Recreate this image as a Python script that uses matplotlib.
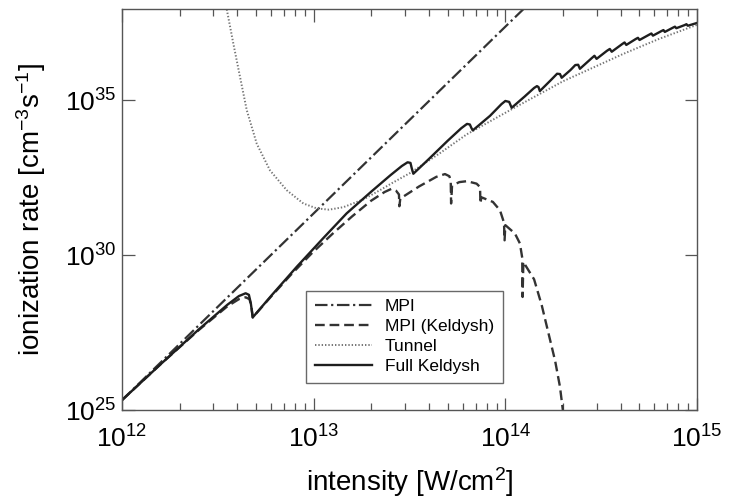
import numpy as np
import matplotlib
matplotlib.use("Agg")
import matplotlib.pyplot as plt
from matplotlib.ticker import FixedLocator, NullLocator, LogLocator

plt.rcParams['font.family'] = ['Liberation Sans', 'DejaVu Sans']
plt.rcParams['mathtext.default'] = 'regular'
plt.rcParams['lines.scale_dashes'] = False

# values, as log10(intensity) / log10(rate)
mpi_logI = [12.0, 13.0, 14.0, 14.2]
mpi_logR = [25.32, 31.35, 37.38, 38.58]

keldysh_mpi_logI = [12.00, 12.20, 12.40, 12.55, 12.61, 12.645, 12.665, 12.675, 12.682,
                    12.78, 12.88, 12.99, 13.10, 13.20, 13.30, 13.37, 13.405, 13.43, 13.445,
                    13.447, 13.452, 13.55, 13.64, 13.685, 13.708, 13.715, 13.717, 13.722,
                    13.76, 13.80, 13.85, 13.868, 13.870, 13.875, 13.935, 13.972, 13.993,
                    13.996, 14.000, 14.05, 14.076, 14.088, 14.090, 14.094, 14.15, 14.19,
                    14.225, 14.26, 14.285, 14.30]
keldysh_mpi_logR = [25.32, 26.47, 27.58, 28.35, 28.58, 28.64, 28.58, 28.35, 27.99,
                    28.68, 29.36, 30.06, 30.70, 31.25, 31.76, 32.04, 32.14, 32.08, 31.96,
                    31.58, 31.83, 32.22, 32.53, 32.62, 32.55, 32.40, 31.67, 32.25,
                    32.36, 32.39, 32.31, 32.20, 31.67, 31.87, 31.72, 31.45, 31.05,
                    30.48, 30.97, 30.70, 30.38, 29.92, 28.65, 29.78, 29.22, 28.38,
                    27.48, 26.58, 25.75, 25.0]

tunnel_logI = [12.54, 12.581, 12.616, 12.651, 12.703, 12.772, 12.859, 12.946, 13.016,
               13.08, 13.155, 13.259, 13.346, 13.415, 13.502, 13.66, 13.798, 14.041,
               14.302, 14.615, 14.80, 15.00]
tunnel_logR = [38.15, 36.83, 35.75, 34.68, 33.60, 32.74, 32.10, 31.67, 31.51,
               31.47, 31.55, 31.80, 32.10, 32.35, 32.65, 33.30, 33.90, 34.74,
               35.62, 36.50, 36.98, 37.44]

full_logI = [12.00, 12.20, 12.40, 12.55, 12.61, 12.645, 12.662, 12.672, 12.682,
             12.78, 12.911, 13.05, 13.172, 13.30, 13.40, 13.46, 13.49, 13.505, 13.512, 13.52,
             13.60, 13.70, 13.77, 13.80, 13.815, 13.822, 13.83,
             13.92, 13.98, 14.00, 14.02, 14.033,
             14.10, 14.15, 14.165, 14.173, 14.18,
             14.24, 14.27, 14.285, 14.294,
             14.34, 14.365, 14.38, 14.389,
             14.45, 14.465, 14.476, 14.53, 14.545, 14.555, 14.61, 14.622, 14.631,
             14.68, 14.692, 14.70, 14.75, 14.762, 14.77, 14.815, 14.825, 14.832,
             14.875, 14.885, 14.892, 14.935, 14.945, 14.952, 15.00]
full_logR = [25.32, 26.47, 27.60, 28.40, 28.68, 28.77, 28.72, 28.45, 27.99,
             28.70, 29.62, 30.55, 31.35, 32.05, 32.58, 32.88, 33.00, 32.98, 32.80, 32.63,
             33.10, 33.70, 34.10, 34.24, 34.22, 34.12, 34.03,
             34.50, 34.88, 34.98, 34.95, 34.76,
             35.12, 35.40, 35.46, 35.43, 35.30,
             35.67, 35.86, 35.85, 35.73,
             35.98, 36.14, 36.15, 36.02,
             36.36, 36.44, 36.34, 36.60, 36.66, 36.57, 36.82, 36.87, 36.79,
             36.98, 37.02, 36.95, 37.12, 37.16, 37.09, 37.24, 37.27, 37.21,
             37.35, 37.38, 37.33, 37.43, 37.46, 37.41, 37.50]

labels = ["MPI", "MPI (Keldysh)", "Tunnel", "Full Keldysh"]

fig = plt.figure(figsize=(7.31, 4.98), dpi=100)
ax = fig.add_axes([0.1669, 0.1767, 0.7866, 0.8052])

ax.plot(10 ** np.array(mpi_logI), 10 ** np.array(mpi_logR), color="#333333", lw=1.6,
        linestyle=(0, (9, 2.6, 1.6, 2.6)), label=labels[0])
ax.plot(10 ** np.array(keldysh_mpi_logI), 10 ** np.array(keldysh_mpi_logR), color="#333333",
        lw=1.7, linestyle=(0, (7, 3.5)), label=labels[1])
ax.plot(10 ** np.array(tunnel_logI), 10 ** np.array(tunnel_logR), color="#767676",
        lw=1.4, linestyle=(0, (1, 1.4)), label=labels[2])
ax.plot(10 ** np.array(full_logI), 10 ** np.array(full_logR), color="#1e1e1e",
        lw=1.7, label=labels[3])

ax.set_xscale("log")
ax.set_yscale("log")
ax.set_xlim(1e12, 1e15)
ax.set_ylim(1e25, 10 ** 37.95)

ax.yaxis.set_major_locator(FixedLocator([1e25, 1e30, 1e35]))
ax.yaxis.set_minor_locator(NullLocator())
ax.xaxis.set_major_locator(LogLocator(base=10, numticks=10))
ax.xaxis.set_minor_locator(LogLocator(base=10, subs=np.arange(2, 10), numticks=20))

for s in ax.spines.values():
    s.set_color("#555555")
    s.set_linewidth(1.0)

ax.tick_params(which="both", direction="in", top=True, right=True, color="#555555",
               width=0.9, labelsize=19)
ax.tick_params(which="major", length=9)
ax.tick_params(which="minor", length=5)
ax.tick_params(axis="x", which="major", pad=11)
ax.tick_params(axis="y", which="major", pad=4)

ax.set_xlabel("intensity [W/cm$^{2}$]", fontsize=20, labelpad=9)
ax.set_ylabel("ionization rate [cm$^{-3}$s$^{-1}$]", fontsize=20, labelpad=12)

leg = ax.legend(loc="lower left", bbox_to_anchor=(0.32, 0.067), fontsize=12.5,
                frameon=True, fancybox=False, handlelength=3.3, handletextpad=0.75,
                labelspacing=0.28, borderpad=0.5, borderaxespad=0.0)
leg.get_frame().set_edgecolor("#444444")
leg.get_frame().set_linewidth(1.0)

fig.savefig("out.png", dpi=100)
